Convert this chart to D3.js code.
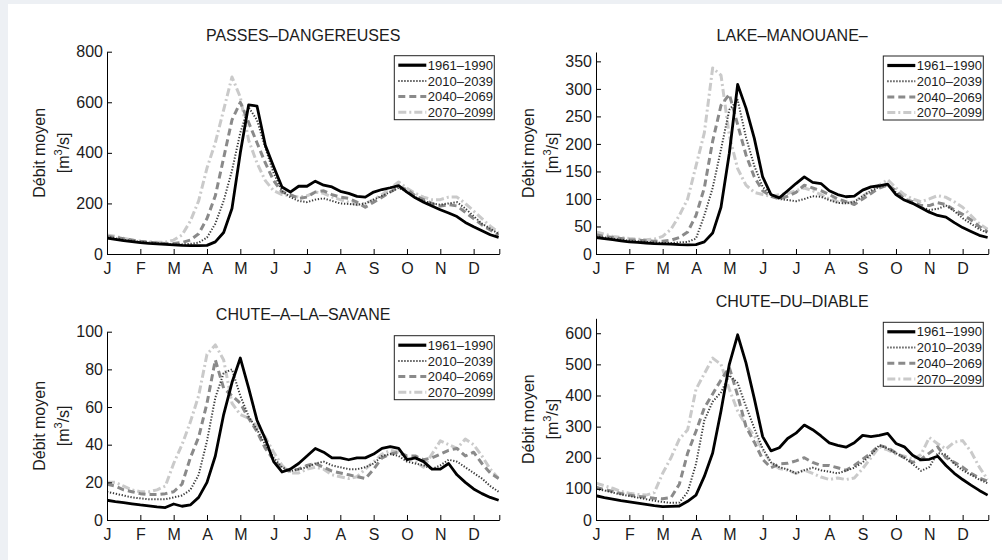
<!DOCTYPE html>
<html><head><meta charset="utf-8">
<script src="https://cdn.jsdelivr.net/npm/d3@7/dist/d3.min.js"></script>
<style>
html,body{margin:0;padding:0;background:#edf0f4;}
svg{display:block;font-family:"Liberation Sans",Arial,Helvetica,sans-serif;}
</style></head>
<body>
<svg id="chart" width="1002" height="560"></svg>
<script>
// ---------- data ----------
const monthLabels = ["J","F","M","A","M","J","J","A","S","O","N","D"];
const periods = ["1961–1990","2010–2039","2040–2069","2070–2099"];
const stationNames = ["PASSES–DANGEREUSES","LAKE–MANOUANE–","CHUTE–A–LA–SAVANE","CHUTE–DU–DIABLE"];
// sampling grid: quarter-month steps (0 = 1 Jan)
const timeMonths = d3.range(48).map(i => i * 0.25);

const passes_1961 = [63,58,53,49,45,42,40,38,36,34,33,33,34,48,85,180,400,590,585,430,345,265,245,268,268,288,272,265,248,240,228,225,245,255,262,270,245,222,205,190,175,162,148,125,108,92,76,66];
const passes_2010 = [68,62,56,52,48,45,43,40,38,38,40,45,65,120,210,330,480,580,530,420,320,250,225,210,205,215,220,210,200,198,195,200,215,230,245,262,245,225,210,200,195,200,205,180,150,120,100,80];
const passes_2040 = [70,66,60,55,50,47,44,42,42,45,55,80,140,230,380,530,600,520,440,360,290,245,235,220,225,245,250,235,225,220,205,185,205,225,245,265,255,230,215,200,190,195,190,165,140,115,95,75];
const passes_2070 = [75,70,62,55,50,48,46,47,55,75,130,210,340,440,570,700,620,450,360,290,250,235,230,225,230,245,240,225,215,205,195,200,215,235,260,285,260,240,225,215,215,225,225,200,170,140,110,85];

const lake_1961 = [30,28,26,24,22,21,20,19,18.5,18,17,16.5,17,22,38,85,183,308,265,210,140,108,102,115,128,140,130,128,115,108,104,105,116,122,124,127,108,98,92,84,76,70,67,57,48,41,34,30];
const lake_2010 = [32,30,28,26,24,23,22,21,20,20,21,22,28,70,120,190,262,280,212,160,122,108,100,98,96,100,105,104,98,93,92,95,105,115,122,125,112,98,92,85,80,82,88,78,65,55,45,38];
const lake_2040 = [35,32,30,28,26,25,24,23,23,25,30,40,70,120,205,270,290,235,180,140,115,105,100,105,112,125,120,115,108,100,95,90,100,110,120,125,115,100,95,88,88,93,90,80,72,62,50,40];
const lake_2070 = [40,36,32,30,28,27,26,27,32,45,70,100,160,220,338,325,215,155,125,112,108,105,108,110,115,120,115,108,100,95,92,95,105,115,125,135,120,108,100,95,100,106,103,95,85,70,55,45];

const savane_1961 = [10.5,9.8,9.2,8.6,8,7.5,7,6.6,8.5,7.3,8,12,20,34,56,73,86,70,53,43,31,25.5,27,30,34,38,36,33,33,32,33,33,35,38,39,38,32,33,31,27,27,30,24,20,16.5,14,12,10.5];
const savane_2010 = [15,14,13,12,11.5,11,11,11,12,13,16,24,42,65,78,80,66,55,48,40,33,28,26,27,28,30,31,29,28,27,27,28,30,34,35,34,31,30,29,27,29,32,31,28,25,22,18,15];
const savane_2040 = [19,18,16,15,14,13.5,13.5,14,15,19,33,44,62,85,70,66,62,54,47,38,32,27,26,27,29,30,28,26,25,24,23,22,27,33,35,36,34,34,32,33,35,37,38,34,36,30,25,22];
const savane_2070 = [20,20,18,16,15,15,16,18,30,40,52,66,88,93,85,62,56,54,50,44,36,29,25,25,27,28,27,24,23,22,23,27,31,35,37,36,33,31,28,35,42,40,38,43,40,34,27,22];

const diable_1961 = [78,72,67,62,58,54,50,46,43,44,45,60,80,140,215,350,500,595,505,390,268,222,232,262,279,305,290,270,248,240,234,248,272,268,272,278,246,235,208,193,195,205,175,150,130,112,95,80];
const diable_2010 = [100,95,88,82,77,72,67,62,58,55,56,90,180,320,380,410,465,440,365,295,230,185,170,162,150,160,168,160,155,150,158,168,185,210,240,230,215,200,180,158,170,215,210,180,160,145,130,118];
const diable_2040 = [105,98,92,85,80,76,73,70,68,72,115,215,285,360,405,450,490,400,300,250,195,168,180,182,190,200,185,175,175,168,160,175,195,215,240,232,215,200,185,195,215,235,200,185,170,150,135,125];
const diable_2070 = [118,110,102,92,86,82,80,88,150,200,260,290,420,470,520,500,420,350,305,270,225,185,165,160,150,160,150,138,130,135,130,135,165,200,235,225,212,205,195,210,265,245,228,250,255,220,170,130];

const yTicks1 = [0,200,400,600,800];
const yTicks2 = [0,50,100,150,200,250,300,350];
const yTicks3 = [0,20,40,60,80,100];
const yTicks4 = [0,100,200,300,400,500,600];

// ---------- styles / layout ----------
const styles = [
  {color:"#000000", width:2.8, dash:null},
  {color:"#3c3c3c", width:2.0, dash:"1.3,1.7"},
  {color:"#8a8a8a", width:3.0, dash:"7,4"},
  {color:"#cacaca", width:3.0, dash:"8,3,2,3"}
];
const panels = [
  {title:stationNames[0], series:[passes_1961,passes_2010,passes_2040,passes_2070], yMax:800, ticks:yTicks1,
   left:107, right:499.3, top:51.7, bottom:254, titleY:40.5},
  {title:stationNames[1], series:[lake_1961,lake_2010,lake_2040,lake_2070], yMax:367, ticks:yTicks2,
   left:596, right:988.3, top:52, bottom:254, titleY:40.5},
  {title:stationNames[2], series:[savane_1961,savane_2010,savane_2040,savane_2070], yMax:100, ticks:yTicks3,
   left:107, right:499.3, top:331.7, bottom:520, titleY:320},
  {title:stationNames[3], series:[diable_1961,diable_2010,diable_2040,diable_2070], yMax:648, ticks:yTicks4,
   left:596, right:988.3, top:318.3, bottom:520, titleY:307}
];
const xEnd = 11.77;
const textColor = "#1c1c1c";

const svg = d3.select("#chart");
svg.append("rect").attr("x",8).attr("y",4).attr("width",994).attr("height",556).attr("fill","#ffffff");

panels.forEach((p, pi) => {
  const x = d3.scaleLinear().domain([0, xEnd]).range([p.left, p.right]);
  const y = d3.scaleLinear().domain([0, p.yMax]).range([p.bottom, p.top]);
  const g = svg.append("g");

  // clip
  const clipId = "clip" + pi;
  g.append("clipPath").attr("id", clipId).append("rect")
    .attr("x", p.left).attr("y", p.top - 2).attr("width", p.right - p.left).attr("height", p.bottom - p.top + 2);

  // lines (light first, black on top)
  const line = d3.line().x((d, i) => x(timeMonths[i])).y(d => y(d));
  [3,2,1,0].forEach(si => {
    const st = styles[si];
    g.append("path").datum(p.series[si])
      .attr("clip-path", `url(#${clipId})`)
      .attr("d", line)
      .attr("fill","none")
      .attr("stroke", st.color)
      .attr("stroke-width", st.width)
      .attr("stroke-linejoin","round")
      .attr("stroke-dasharray", st.dash);
  });

  // x axis
  const xAxis = d3.axisBottom(x)
    .tickValues(d3.range(12).concat([xEnd]))
    .tickFormat(d => (d < 12 && Number.isInteger(d)) ? monthLabels[d] : "")
    .tickSizeInner(-5).tickSizeOuter(0).tickPadding(9);
  const gx = g.append("g").attr("transform", `translate(0,${p.bottom})`).call(xAxis);
  gx.selectAll("text").attr("font-size", 16).attr("font-family", "Liberation Sans, Arial, sans-serif").attr("fill", textColor);
  gx.selectAll("line,path").attr("stroke", "#000").attr("stroke-width", 1);

  // y axis
  const yAxis = d3.axisLeft(y).tickValues(p.ticks).tickFormat(d3.format("d"))
    .tickSizeInner(-5).tickSizeOuter(0).tickPadding(4);
  const gy = g.append("g").attr("transform", `translate(${p.left},0)`).call(yAxis);
  gy.selectAll("text").attr("font-size", 16).attr("font-family", "Liberation Sans, Arial, sans-serif").attr("fill", textColor);
  gy.selectAll("line,path").attr("stroke", "#000").attr("stroke-width", 1);

  // title
  g.append("text").attr("x", (p.left + p.right) / 2).attr("y", p.titleY)
    .attr("text-anchor","middle").attr("font-size",16).attr("fill",textColor).text(p.title);

  // y label
  const cy = (p.top + p.bottom) / 2;
  g.append("text").attr("transform", `translate(${p.left - 62},${cy}) rotate(-90)`)
    .attr("text-anchor","middle").attr("font-size",16).attr("fill",textColor).text("Débit moyen");
  const t2 = g.append("text").attr("transform", `translate(${p.left - 38},${cy}) rotate(-90)`)
    .attr("text-anchor","middle").attr("font-size",16).attr("fill",textColor);
  t2.append("tspan").text("[m");
  t2.append("tspan").attr("dy",-7).attr("font-size",11).text("3");
  t2.append("tspan").attr("dy",7).text("/s]");

  // legend
  const lw = 100, lh = 64;
  const lx = p.right - 5 - lw, ly = p.top + 4;
  const lg = g.append("g");
  lg.append("rect").attr("x", lx).attr("y", ly).attr("width", lw).attr("height", lh)
    .attr("fill","#fff").attr("stroke","#222").attr("stroke-width",1);
  periods.forEach((name, i) => {
    const ry = ly + 9.5 + i * 15.7;
    const st = styles[i];
    lg.append("line").attr("x1", lx + 4).attr("x2", lx + 32).attr("y1", ry).attr("y2", ry)
      .attr("stroke", st.color).attr("stroke-width", i === 0 ? 3.2 : st.width).attr("stroke-dasharray", st.dash);
    lg.append("text").attr("x", lx + 33.5).attr("y", ry).attr("dy","0.36em")
      .attr("font-size",13).attr("fill",textColor).text(name);
  });
});
</script>
</body></html>
